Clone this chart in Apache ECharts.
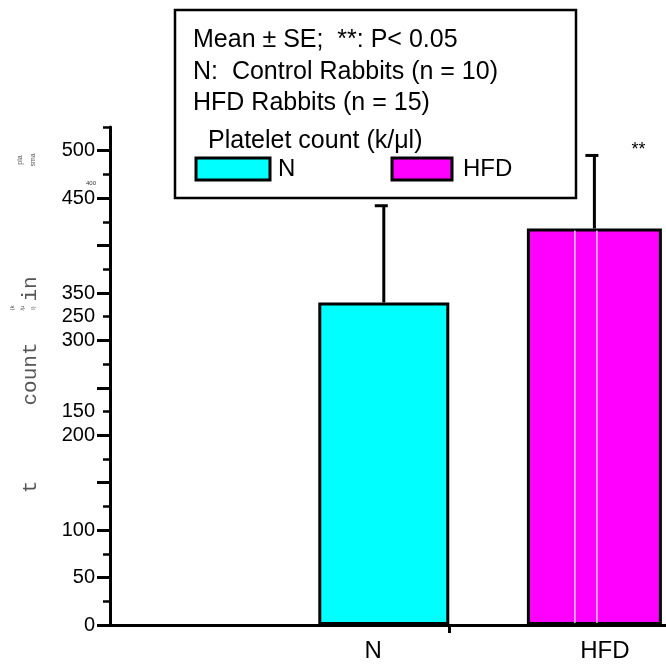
<!DOCTYPE html>
<html>
<head>
<meta charset="utf-8">
<script src="https://cdn.jsdelivr.net/npm/echarts@6/dist/echarts.min.js"></script>
<style>
html,body{margin:0;padding:0;background:#fff;}
#main{width:666px;height:664px;}
</style>
</head>
<body>
<div id="main"></div>
<script>
// 分组与数值
var groups = ['N', 'HFD'];
var groupPos = [1, 2];
var means = [340, 418];      // 均值
var errTops = [442, 495];    // 均值 + SE
var sigMarks = ['', '**'];
var barColors = ['#00ffff', '#ff00ff'];

// 纵轴刻度(原图标签错位,照搬)
var yMajorTicks = [0, 50, 100, 150, 200, 250, 300, 350, 400, 450, 500];
var yMinorTicks = [25, 75, 125, 175, 225, 275, 325, 375, 425, 475, 525];
var yLabelPos = [0, 50, 100, 200, 225, 300, 325, 350, 450, 500];
var yLabelText = ['0', '50', '100', '200', '150', '300', '250', '350', '450', '500'];
// 横轴
var xLabelPos = [0.95, 2.05];
var xTickPos = [1.31];

var noteLines = ['Mean \u00b1 SE;  **: P< 0.05', 'N:  Control Rabbits (n = 10)', 'HFD Rabbits (n = 15)'];
var legendTitle = 'Platelet count (k/\u03bcl)';

var font = '"Liberation Sans", Arial, sans-serif';
var mono = '"Liberation Mono", "Courier New", monospace';

function nearest(arr, v) {
	var best = 0;
	for (var i = 1; i < arr.length; ++i) {
		if (Math.abs(arr[i] - v) < Math.abs(arr[best] - v)) best = i;
	}
	return best;
}

// 误差线 + 显著性标记
function renderErr(params, api) {
	var x = api.value(0), m = api.value(1), hi = api.value(2), i = api.value(3);
	var base = api.coord([x, m]);
	var top = api.coord([x, hi]);
	var zero = api.coord([x, 0]);
	var kids = [
		{type: 'line', shape: {x1: top[0], y1: base[1], x2: top[0], y2: top[1]}, style: {stroke: '#000', lineWidth: 3}},
		{type: 'line', shape: {x1: top[0] - 9, y1: top[1], x2: top[0] + 4, y2: top[1]}, style: {stroke: '#000', lineWidth: 3}}
	];
	if (sigMarks[i]) {
		kids.push({type: 'text', x: top[0] + 44, y: top[1] - 5,
			style: {text: sigMarks[i], font: '18px ' + font, fill: '#000', align: 'center', verticalAlign: 'middle'}});
		// 原图柱内的白色竖纹
		[-19.5, 2.5].forEach(function (dx) {
			kids.push({type: 'line', shape: {x1: base[0] + dx, y1: base[1] + 2, x2: base[0] + dx, y2: zero[1] - 2},
				style: {stroke: '#fff', lineWidth: 1.2}});
		});
	}
	return {type: 'group', children: kids};
}

var errData = [];
for (var i = 0; i < groups.length; ++i) errData.push([groupPos[i], means[i], errTops[i], i]);

var gfx = [
	{type: 'rect', shape: {x: 175, y: 10, width: 401, height: 188}, style: {fill: '#fff', stroke: '#000', lineWidth: 2.5}, z: 1}
];
var noteY = [40, 72, 103];
for (var k = 0; k < noteLines.length; ++k) {
	gfx.push({type: 'text', x: 193, y: noteY[k], z: 2,
		style: {text: noteLines[k], font: '25px ' + font, fill: '#000', verticalAlign: 'middle'}});
}
gfx.push({type: 'text', x: 208, y: 141, z: 2,
	style: {text: legendTitle, font: '25px ' + font, fill: '#000', verticalAlign: 'middle'}});

// 纵轴标题碎片(原图如此)
var nameBits = [
	{t: 'pla', x: 20, y: 160, s: 7},
	{t: 'sma', x: 33, y: 160, s: 7},
	{t: 'in', x: 30, y: 289, s: 21},
	{t: '(k', x: 12, y: 308, s: 6},
	{t: '/\u03bc', x: 22, y: 308, s: 6},
	{t: 'l)', x: 33, y: 308, s: 6},
	{t: 'count', x: 30, y: 374, s: 21},
	{t: 't', x: 30, y: 487, s: 21}
];
nameBits.forEach(function (b) {
	gfx.push({type: 'text', x: b.x, y: b.y, rotation: Math.PI / 2, z: 2,
		style: {text: b.t, font: b.s + 'px ' + (b.s > 10 ? mono : font), fill: '#555', align: 'center', verticalAlign: 'middle'}});
});
gfx.push({type: 'text', x: 91, y: 183, z: 2, style: {text: '400', font: '6px ' + font, fill: '#333', align: 'center', verticalAlign: 'middle'}});

var chart = echarts.init(document.getElementById('main'));
var option = {
	animation: false,
	backgroundColor: '#fff',
	grid: {left: 110, right: 0, top: 127, bottom: 39},
	xAxis: [
		{
			type: 'value', min: -0.3, max: 2.34,
			axisLine: {show: true, onZero: false, lineStyle: {color: '#000', width: 3}},
			axisTick: {show: true, customValues: xTickPos, length: 8, lineStyle: {color: '#000', width: 3}},
			axisLabel: {
				customValues: xLabelPos, margin: 14, fontSize: 24, fontFamily: font, color: '#000',
				formatter: function (v) { return groups[nearest(xLabelPos, v)]; }
			},
			splitLine: {show: false}
		},
		{type: 'value', min: -0.3, max: 2.34, show: false, splitLine: {show: false}}
	],
	yAxis: [
		{
			type: 'value', min: 0, max: 525, position: 'left',
			axisLine: {show: true, onZero: false, lineStyle: {color: '#000', width: 3}},
			axisTick: {show: true, customValues: yMajorTicks, length: 13, lineStyle: {color: '#000', width: 3}},
			axisLabel: {
				customValues: yLabelPos, margin: 15, fontSize: 20, fontFamily: font, color: '#000',
				formatter: function (v) { return yLabelText[nearest(yLabelPos, v)]; }
			},
			splitLine: {show: false}
		},
		{
			type: 'value', min: 0, max: 525, position: 'left', offset: 0,
			axisLine: {show: false, onZero: false},
			axisTick: {show: true, customValues: yMinorTicks, length: 7, lineStyle: {color: '#000', width: 2.5}},
			axisLabel: {show: false},
			splitLine: {show: false}
		}
	],
	legend: [
		{
			data: ['N'], left: 194.5, top: 156.5, padding: 0, icon: 'rect', itemWidth: 74, itemHeight: 22,
			selectedMode: false, z: 10,
			itemStyle: {borderColor: '#000', borderWidth: 3},
			textStyle: {fontSize: 24, fontFamily: font, color: '#000', padding: [0, 0, 0, 3]}
		},
		{
			data: ['HFD'], left: 390.5, top: 156.5, padding: 0, icon: 'rect', itemWidth: 60, itemHeight: 22,
			selectedMode: false, z: 10,
			itemStyle: {borderColor: '#000', borderWidth: 3},
			textStyle: {fontSize: 24, fontFamily: font, color: '#000', padding: [0, 0, 0, 6]}
		}
	],
	graphic: gfx,
	series: [
		{
			name: groups[0], type: 'bar', xAxisIndex: 0, yAxisIndex: 0, barWidth: 131,
			data: [[groupPos[0], means[0]]],
			itemStyle: {color: barColors[0], borderColor: '#000', borderWidth: 3}
		},
		{
			name: groups[1], type: 'bar', xAxisIndex: 1, yAxisIndex: 0, barWidth: 135,
			data: [[groupPos[1], means[1]]],
			itemStyle: {color: barColors[1], borderColor: '#000', borderWidth: 3}
		},
		{
			type: 'custom', xAxisIndex: 0, yAxisIndex: 0, z: 5,
			renderItem: renderErr,
			data: errData
		}
	]
};
chart.setOption(option);
</script>
</body>
</html>
